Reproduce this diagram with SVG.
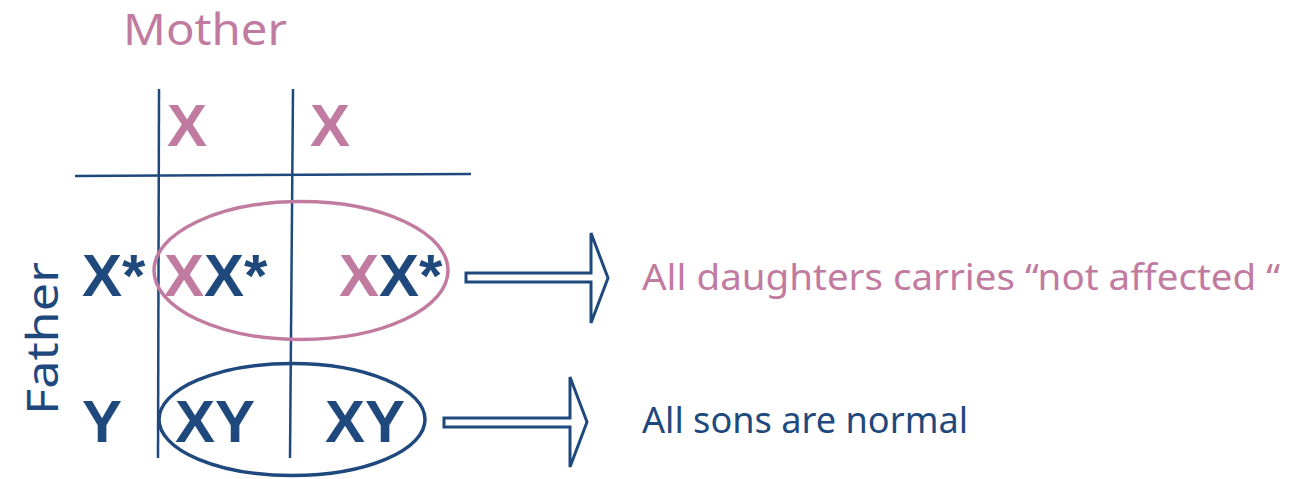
<svg xmlns="http://www.w3.org/2000/svg" width="1297" height="479" viewBox="0 0 1297 479">
  <style>
    .grid { stroke: #1F497D; stroke-width: 2.5; fill: none; }
    .allele { font-family: "Liberation Sans", Arial, sans-serif; font-weight: bold; font-size: 60px; }
    .pink { fill: #C27BA0; }
    .blue { fill: #1F497D; }
    .hand { font-family: "Comic Sans MS", "Noto Sans", "DejaVu Sans", sans-serif; }
    .arrow { fill: #fff; stroke: #1F497D; stroke-width: 3; stroke-linejoin: miter; }
  </style>
  <rect width="1297" height="479" fill="#fff"/>

  <!-- parent labels -->
  <g id="mother-label">
    <text class="hand pink" x="123" y="45" font-size="44" textLength="164" lengthAdjust="spacingAndGlyphs">Mother</text>
  </g>
  <g id="father-label">
    <text class="hand blue" transform="translate(58,415) rotate(-90)" font-size="44" textLength="153" lengthAdjust="spacingAndGlyphs">Father</text>
  </g>

  <!-- Punnett square grid -->
  <g id="grid">
    <line class="grid" x1="159" y1="89" x2="158" y2="458"/>
    <line class="grid" x1="293" y1="89" x2="290" y2="458"/>
    <line class="grid" x1="75" y1="176" x2="471" y2="174"/>
  </g>

  <!-- gametes -->
  <g id="mother-gametes">
    <text class="allele pink" x="167" y="146">X</text>
    <text class="allele pink" x="310" y="146">X</text>
  </g>
  <g id="father-gametes">
    <text class="allele blue" x="82" y="296">X*</text>
    <text class="allele blue" x="82" y="442">Y</text>
  </g>

  <!-- offspring -->
  <g id="daughters">
    <ellipse cx="301" cy="270.5" rx="147" ry="69" fill="none" stroke="#C27BA0" stroke-width="3.5"/>
    <text class="allele" x="164" y="296"><tspan class="pink">X</tspan><tspan class="blue">X*</tspan></text>
    <text class="allele" x="339" y="296"><tspan class="pink">X</tspan><tspan class="blue">X*</tspan></text>
  </g>
  <g id="sons">
    <ellipse cx="292" cy="419.5" rx="133" ry="56" fill="none" stroke="#1F497D" stroke-width="3.5"/>
    <text class="allele blue" x="175" y="442">XY</text>
    <text class="allele blue" x="325" y="442">XY</text>
  </g>

  <!-- outcome arrows -->
  <g id="connectors">
    <path class="arrow" d="M466,273 L591,273 L591,233 L608,278 L591,323 L591,282 L466,282 Z"/>
    <path class="arrow" d="M444,418 L570,418 L570,377 L587,422 L570,467 L570,427 L444,427 Z"/>
  </g>

  <!-- conclusions -->
  <g id="daughters-result">
    <text class="hand pink" x="642" y="290" font-size="36" textLength="638" lengthAdjust="spacingAndGlyphs">All daughters carries “not affected “</text>
  </g>
  <g id="sons-result">
    <text class="hand blue" x="642" y="433" font-size="36" textLength="326" lengthAdjust="spacingAndGlyphs">All sons are normal</text>
  </g>
</svg>
